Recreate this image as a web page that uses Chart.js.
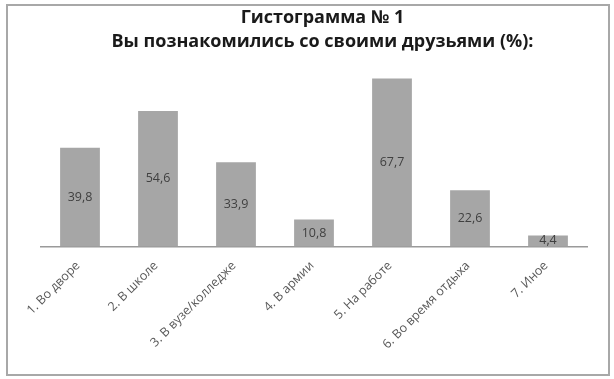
<!DOCTYPE html>
<html lang="ru">
<head>
  <meta charset="UTF-8" />
  <title>Гистограмма № 1</title>
  <script src="https://cdn.jsdelivr.net/npm/chart.js"></script>
  <style>
    body {
      margin: 0;
      background: #fff;
    }
    .frame {
      position: absolute;
      left: 6px;
      top: 4px;
      width: 600px;
      height: 368px;
      border: 2px solid #a8a8a8;
    }
    #chartWrap {
      position: absolute;
      left: 0;
      top: 0;
      width: 614px;
      height: 379px;
    }
  </style>
</head>
<body>
  <div class="frame"></div>
  <div id="chartWrap"><canvas id="friendsChart"></canvas></div>

  <script>
    const categories = [
      "1. Во дворе",
      "2. В школе",
      "3. В вузе/колледже",
      "4. В армии",
      "5. На работе",
      "6. Во время отдыха",
      "7. Иное"
    ];
    const percents = [39.8, 54.6, 33.9, 10.8, 67.7, 22.6, 4.4];
    const titleLines = ["Гистограмма № 1", "Вы познакомились со своими друзьями (%):"];

    const FONT = "'Open Sans', Lato, sans-serif";

    // values written in the middle of each bar, comma as decimal sign
    const barValueLabels = {
      id: "barValueLabels",
      afterDatasetsDraw(chart) {
        const ctx = chart.ctx;
        const meta = chart.getDatasetMeta(0);
        ctx.save();
        ctx.font = "12.5px " + FONT;
        ctx.fillStyle = "#404040";
        ctx.textAlign = "center";
        ctx.textBaseline = "middle";
        meta.data.forEach((bar, i) => {
          const txt = percents[i].toFixed(1).replace(".", ",");
          ctx.fillText(txt, bar.x, (bar.y + bar.base) / 2);
        });
        ctx.restore();
      }
    };

    new Chart(document.getElementById("friendsChart"), {
      type: "bar",
      data: {
        labels: categories,
        datasets: [{
          data: percents,
          backgroundColor: "#a6a6a6",
          categoryPercentage: 1,
          barPercentage: 0.51
        }]
      },
      options: {
        responsive: true,
        maintainAspectRatio: false,
        animation: false,
        layout: { padding: { left: 41, right: 10, top: 3, bottom: 15 } },
        plugins: {
          legend: { display: false },
          tooltip: { enabled: false },
          title: {
            display: true,
            text: titleLines,
            color: "#1a1a1a",
            font: { family: FONT, size: 18, weight: "bold", lineHeight: 1.38 },
            padding: { top: 2, bottom: 18 }
          }
        },
        scales: {
          x: {
            grid: { display: false, drawTicks: false },
            border: { display: true, color: "#9a9a9a", width: 1.5 },
            ticks: {
              color: "#595959",
              font: { family: FONT, size: 12.5 },
              maxRotation: 45,
              minRotation: 45,
              autoSkip: false,
              padding: 12,
              labelOffset: -2
            }
          },
          y: {
            position: "right",
            min: 0,
            max: 70,
            grid: { display: false, drawTicks: false },
            border: { display: false },
            ticks: { display: false },
            afterFit(scale) { scale.width = 17; }
          }
        }
      },
      plugins: [barValueLabels]
    });
  </script>
</body>
</html>
